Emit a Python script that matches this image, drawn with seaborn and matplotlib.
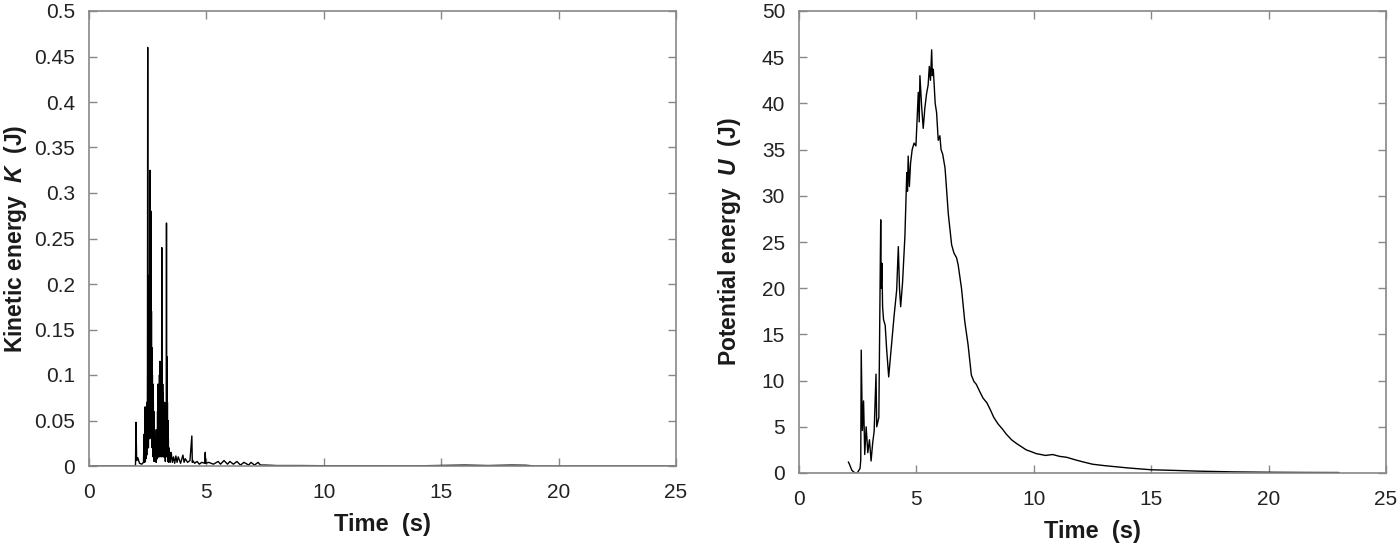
import numpy as np
import pandas as pd
import seaborn as sns
from matplotlib import pyplot as plt

# kinetic energy trace
time_k = [0.0, 1.9, 1.98, 2.0, 2.03, 2.08, 2.15, 2.25, 2.32, 2.35, 2.37,
          2.39, 2.4, 2.41, 2.42, 2.43, 2.44, 2.45, 2.46, 2.47, 2.48, 2.49, 2.5,
          2.51, 2.52, 2.53, 2.54, 2.55, 2.56, 2.57, 2.58, 2.59, 2.6, 2.61, 2.62,
          2.63, 2.64, 2.65, 2.66, 2.67, 2.68, 2.69, 2.7, 2.71, 2.72, 2.73, 2.74,
          2.75, 2.76, 2.77, 2.78, 2.79, 2.8, 2.82, 2.84, 2.86, 2.88, 2.9, 2.91,
          2.92, 2.93, 2.94, 2.95, 2.96, 2.97, 2.98, 2.99, 3.0, 3.01, 3.02, 3.03,
          3.04, 3.05, 3.06, 3.07, 3.08, 3.09, 3.1, 3.11, 3.12, 3.13, 3.14, 3.15,
          3.16, 3.17, 3.18, 3.19, 3.2, 3.21, 3.22, 3.23, 3.24, 3.25, 3.26, 3.27,
          3.28, 3.29, 3.3, 3.31, 3.32, 3.33, 3.34, 3.35, 3.36, 3.37, 3.38, 3.39,
          3.4, 3.42, 3.44, 3.46, 3.5, 3.55, 3.6, 3.65, 3.7, 3.75, 3.8, 3.9, 4.0,
          4.05, 4.1, 4.2, 4.3, 4.38, 4.4, 4.42, 4.5, 4.6, 4.7, 4.8, 4.93, 4.95,
          4.97, 5.1, 5.3, 5.5, 5.6, 5.75, 5.9, 6.0, 6.15, 6.3, 6.45, 6.6, 6.8,
          6.9, 7.05, 7.2, 7.3, 7.5, 8.0, 9.0, 10.0, 12.0, 14.0, 16.0, 17.0,
          18.0, 18.6, 19.0, 25.0]
energy_k = [0.0, 0.0, 0.0, 0.048, 0.006, 0.009, 0.003, 0.002, 0.004, 0.035, 0.004,
            0.065, 0.005, 0.04, 0.008, 0.05, 0.01, 0.06, 0.012, 0.07, 0.02, 0.1,
            0.46, 0.03, 0.15, 0.02, 0.2, 0.04, 0.12, 0.03, 0.21, 0.05, 0.325, 0.04,
            0.26, 0.05, 0.28, 0.03, 0.17, 0.04, 0.13, 0.02, 0.1, 0.03, 0.09, 0.01,
            0.07, 0.02, 0.06, 0.005, 0.05, 0.01, 0.04, 0.005, 0.03, 0.004, 0.02,
            0.04, 0.008, 0.06, 0.01, 0.09, 0.01, 0.085, 0.02, 0.07, 0.01, 0.1,
            0.02, 0.115, 0.03, 0.09, 0.02, 0.08, 0.01, 0.07, 0.02, 0.24, 0.03,
            0.11, 0.02, 0.09, 0.01, 0.08, 0.02, 0.06, 0.01, 0.05, 0.02, 0.07, 0.01,
            0.06, 0.005, 0.04, 0.01, 0.05, 0.02, 0.267, 0.02, 0.12, 0.01, 0.07,
            0.005, 0.05, 0.01, 0.03, 0.004, 0.02, 0.006, 0.015, 0.004, 0.015,
            0.004, 0.01, 0.003, 0.011, 0.004, 0.01, 0.003, 0.012, 0.004, 0.008,
            0.004, 0.006, 0.033, 0.004, 0.006, 0.003, 0.005, 0.002, 0.004, 0.003,
            0.015, 0.003, 0.004, 0.002, 0.005, 0.002, 0.006, 0.002, 0.005, 0.002,
            0.005, 0.001, 0.004, 0.001, 0.004, 0.001, 0.004, 0.001, 0.001, 0.0005,
            0.0005, 0.0003, 0.0002, 0.0002, 0.001, 0.0005, 0.001, 0.0008, 0.0, 0.0]

# potential energy trace
time_u = [2.1, 2.14, 2.25, 2.38, 2.48, 2.6, 2.63, 2.65, 2.7, 2.75, 2.8, 2.86, 2.93, 3.0,
          3.07, 3.14, 3.2, 3.28, 3.31, 3.4, 3.48, 3.5, 3.53, 3.56, 3.6, 3.67, 3.73,
          3.82, 3.92, 4.05, 4.16, 4.23, 4.28, 4.33, 4.41, 4.51, 4.59, 4.62, 4.65, 4.7,
          4.75, 4.82, 4.9, 4.98, 5.08, 5.12, 5.15, 5.22, 5.29, 5.36, 5.43, 5.5, 5.55,
          5.6, 5.65, 5.68, 5.72, 5.8, 5.86, 5.93, 6.0, 6.05, 6.12, 6.22, 6.36, 6.5,
          6.6, 6.71, 6.78, 6.92, 7.06, 7.2, 7.34, 7.45, 7.55, 7.7, 7.84, 8.0, 8.12,
          8.3, 8.48, 8.65, 8.83, 9.05, 9.26, 9.5, 9.68, 9.9, 10.1, 10.5, 10.8, 11.1,
          11.4, 11.8, 12.1, 12.5, 13.0, 14.0, 15.0, 16.0, 17.0, 18.5, 20.0, 21.5, 23.0]
energy_u = [1.2, 1.0, 0.3, 0.0, 0.0, 0.5, 1.4, 13.3, 4.6, 7.8, 2.0, 5.0, 2.2, 3.6, 1.3,
            3.3, 4.5, 10.7, 5.0, 6.0, 27.4, 20.0, 22.7, 18.0, 16.6, 16.0, 13.5, 10.4,
            13.3, 17.0, 19.8, 24.5, 20.0, 18.0, 20.6, 25.6, 32.5, 30.5, 34.3, 31.0,
            33.5, 35.0, 35.7, 35.4, 41.2, 38.0, 43.0, 39.8, 37.3, 39.5, 41.0, 42.0,
            44.0, 42.5, 45.8, 43.0, 43.7, 40.0, 39.0, 36.0, 36.5, 35.0, 34.5, 33.0,
            28.0, 24.7, 23.8, 23.3, 22.5, 20.0, 16.4, 13.9, 10.6, 9.9, 9.6, 8.8, 8.1,
            7.6, 7.0, 6.0, 5.3, 4.8, 4.2, 3.6, 3.2, 2.8, 2.5, 2.3, 2.1, 1.9, 2.0, 1.8,
            1.7, 1.4, 1.2, 0.95, 0.8, 0.55, 0.35, 0.28, 0.2, 0.12, 0.08, 0.06, 0.05]

kinetic = pd.DataFrame({"t": time_k, "K": energy_k})
potential = pd.DataFrame({"t": time_u, "U": energy_u})

sns.set_style("white")
plt.rcParams["font.family"] = ["Liberation Sans", "DejaVu Sans"]
plt.rcParams["mathtext.fontset"] = "custom"
plt.rcParams["mathtext.it"] = "Liberation Sans:italic:bold"
plt.rcParams["mathtext.rm"] = "Liberation Sans:bold"

fig = plt.figure(figsize=(14, 5.46), dpi=100)
ax1 = fig.add_axes([89 / 1400, 1 - 466 / 546, 587 / 1400, 455 / 546])
ax2 = fig.add_axes([799 / 1400, 1 - 473 / 546, 587 / 1400, 462 / 546])

sns.lineplot(data=kinetic, x="t", y="K", ax=ax1, color="black", linewidth=1.0,
             estimator=None, sort=False)
sns.lineplot(data=potential, x="t", y="U", ax=ax2, color="black", linewidth=1.0,
             estimator=None, sort=False)

ax1.set_ylim(0, 0.5)
ax1.set_yticks(np.arange(0, 0.51, 0.05))
ax1.set_yticklabels(["0", "0.05", "0.1", "0.15", "0.2", "0.25", "0.3", "0.35", "0.4",
                     "0.45", "0.5"])
ax1.set_ylabel(r"Kinetic energy  $K$  (J)")
ax2.set_ylim(0, 50)
ax2.set_yticks(np.arange(0, 51, 5))
ax2.set_ylabel(r"Potential energy  $U$  (J)")

for ax in (ax1, ax2):
    ax.set_xlim(0, 25)
    ax.set_xticks(np.arange(0, 26, 5))
    ax.set_xlabel("Time  (s)", fontsize=17, fontweight="bold", color="#1a1a1a",
                  labelpad=8)
    ax.yaxis.label.set_fontsize(16.5)
    ax.yaxis.label.set_fontweight("bold")
    ax.yaxis.label.set_color("#1a1a1a")
    ax.tick_params(direction="in", length=6, width=1, color="#888888",
                   labelsize=15, labelcolor="#222222", top=True, right=True,
                   bottom=True, left=True)
    ax.tick_params(axis="x", pad=12)
    ax.tick_params(axis="y", pad=10)
    for s in ax.spines.values():
        s.set_color("#888888")
        s.set_linewidth(1.2)

ax1.yaxis.set_label_coords(-0.103, 0.5)
ax2.yaxis.set_label_coords(-0.096, 0.5)

fig.savefig("out.png", dpi=100)
